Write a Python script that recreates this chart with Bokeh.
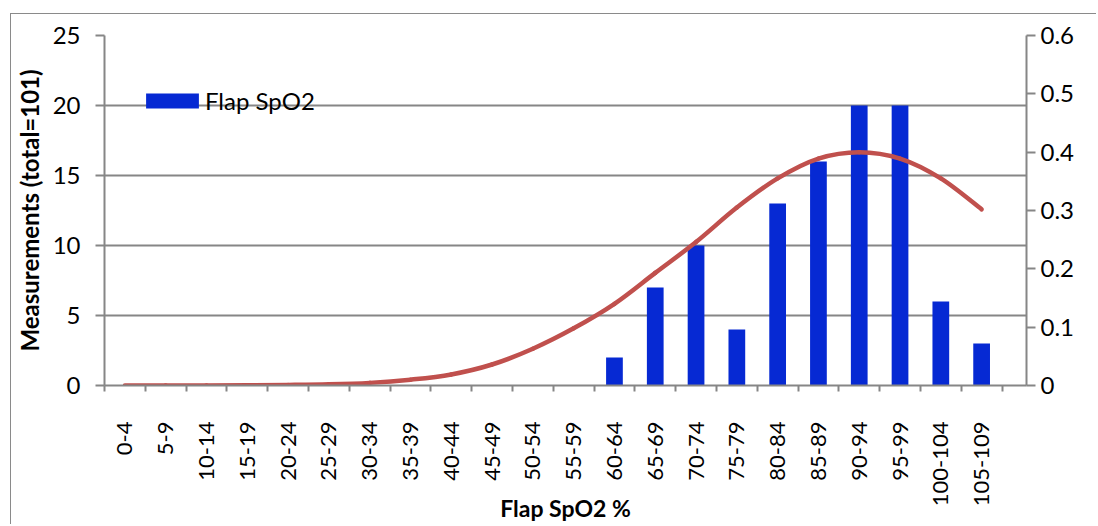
from math import pi
from bokeh.plotting import figure
from bokeh.models import Range1d, LinearAxis, FixedTicker, Legend, LegendItem
from bokeh.embed import file_html
from bokeh.resources import INLINE

categories = ["0-4", "5-9", "10-14", "15-19", "20-24", "25-29", "30-34", "35-39",
              "40-44", "45-49", "50-54", "55-59", "60-64", "65-69", "70-74", "75-79",
              "80-84", "85-89", "90-94", "95-99", "100-104", "105-109"]
counts = [0, 0, 0, 0, 0, 0, 0, 0, 0, 0, 0, 0, 2, 7, 10, 4, 13, 16, 20, 20, 6, 3]
density = [0.0, 0.0001, 0.0002, 0.0005, 0.001, 0.002, 0.0045, 0.010, 0.019, 0.036,
           0.063, 0.098, 0.140, 0.193, 0.246, 0.305, 0.355, 0.389, 0.400, 0.389,
           0.355, 0.302]
left_ticks = [0, 5, 10, 15, 20, 25]
right_ticks = [0, 0.1, 0.2, 0.3, 0.4, 0.5, 0.6]
right_labels = ["0", "0.1", "0.2", "0.3", "0.4", "0.5", "0.6"]
x_title = "Flap SpO2 %"
y_title = "Measurements (total=101)"
series_name = "Flap SpO2"

FONT = "Lato"
GRID = "#868686"
xs = list(range(len(categories)))
bounds = [i - 0.5 for i in range(len(categories) + 1)]

p = figure(width=1086, height=511, output_backend="svg", toolbar_location=None,
           x_range=Range1d(-0.5, 22.1), y_range=Range1d(0, 25),
           min_border_left=90, min_border_right=71, min_border_top=21, min_border_bottom=140,
           margin=(13, 0, 0, 10))
p.styles = {"border-left": "1px solid #8a8a8a", "border-top": "1px solid #8a8a8a"}
p.outline_line_color = None
p.background_fill_color = "white"
p.extra_y_ranges = {"right": Range1d(0, 0.6)}

p.xgrid.visible = False
p.ygrid.ticker = FixedTicker(ticks=left_ticks)
p.ygrid.grid_line_color = GRID
p.ygrid.grid_line_width = 2

# left axis
ya = p.yaxis[0]
ya.ticker = FixedTicker(ticks=left_ticks)
ya.axis_line_color = GRID
ya.axis_line_width = 2
ya.major_tick_line_color = GRID
ya.major_tick_line_width = 2
ya.major_tick_out = 9
ya.major_tick_in = 0
ya.minor_tick_line_color = None
ya.major_label_standoff = 15
ya.major_label_text_font = FONT
ya.major_label_text_font_size = "24px"
ya.major_label_text_color = "black"
ya.axis_label = y_title
ya.axis_label_text_font = FONT
ya.axis_label_text_font_style = "bold"
ya.axis_label_text_font_size = "24px"
ya.axis_label_text_color = "black"
ya.axis_label_standoff = 6

# bottom axis
xa = p.xaxis[0]
xa.ticker = FixedTicker(ticks=xs, minor_ticks=bounds)
xa.major_label_overrides = {i: c for i, c in zip(xs, categories)}
xa.major_label_orientation = pi / 2
xa.axis_line_color = GRID
xa.axis_line_width = 2
xa.major_tick_line_color = None
xa.major_tick_out = 0
xa.major_tick_in = 0
xa.minor_tick_line_color = GRID
xa.minor_tick_line_width = 2
xa.minor_tick_out = 6
xa.minor_tick_in = 0
xa.major_label_standoff = 30
xa.major_label_text_font = FONT
xa.major_label_text_font_size = "22px"
xa.major_label_text_color = "black"
xa.axis_label = x_title
xa.axis_label_text_font = FONT
xa.axis_label_text_font_style = "bold"
xa.axis_label_text_font_size = "23px"
xa.axis_label_text_color = "black"
xa.axis_label_standoff = -15

# right axis
ra = LinearAxis(y_range_name="right", ticker=FixedTicker(ticks=right_ticks))
ra.major_label_overrides = {t: l for t, l in zip(right_ticks, right_labels)}
ra.axis_line_color = GRID
ra.axis_line_width = 2
ra.major_tick_line_color = GRID
ra.major_tick_line_width = 2
ra.major_tick_out = 9
ra.major_tick_in = 0
ra.minor_tick_line_color = None
ra.major_label_standoff = 5
ra.major_label_text_font = FONT
ra.major_label_text_font_size = "24px"
ra.major_label_text_color = "black"
p.add_layout(ra, "right")

bars = p.vbar(x=xs, top=counts, width=0.41, fill_color="#0629D3", line_color=None)

# smooth curve (Catmull-Rom style Bezier segments through the data points)
n = len(xs)
x0s, y0s, x1s, y1s, cx0, cy0, cx1, cy1 = [], [], [], [], [], [], [], []
for i in range(n - 1):
    im1 = max(i - 1, 0)
    ip2 = min(i + 2, n - 1)
    x0s.append(xs[i]); y0s.append(density[i])
    x1s.append(xs[i + 1]); y1s.append(density[i + 1])
    cx0.append(xs[i] + (xs[i + 1] - xs[im1]) / 6)
    cy0.append(density[i] + (density[i + 1] - density[im1]) / 6)
    cx1.append(xs[i + 1] - (xs[ip2] - xs[i]) / 6)
    cy1.append(density[i + 1] - (density[ip2] - density[i]) / 6)
p.bezier(x0=x0s, y0=y0s, x1=x1s, y1=y1s, cx0=cx0, cy0=cy0, cx1=cx1, cy1=cy1,
         y_range_name="right", line_color="#C0504D", line_width=4.5, line_cap="round")

legend = Legend(items=[LegendItem(label=series_name, renderers=[bars])],
                location=(35, 270), glyph_width=66, glyph_height=19,
                label_text_font=FONT, label_text_font_size="24px",
                label_text_color="black",
                label_standoff=-3, padding=0, margin=0, spacing=0,
                border_line_color=None, background_fill_alpha=0)
p.add_layout(legend)

open("out.html", "w").write(file_html(p, INLINE))
